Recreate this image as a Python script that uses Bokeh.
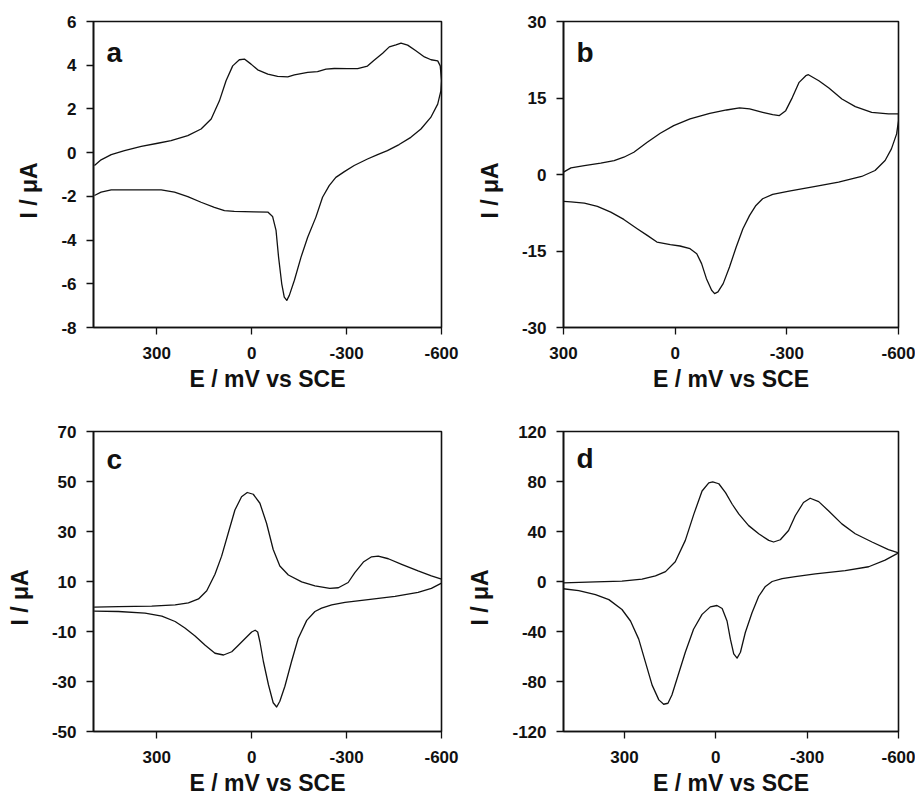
from bokeh.plotting import figure
from bokeh.layouts import gridplot
from bokeh.models import Range1d, FixedTicker, Label
from bokeh.embed import file_html
from bokeh.resources import INLINE

# ---------------- data (E / mV vs SCE, I / uA) ----------------
# panel a
a_E_fwd = [497, 476, 444, 402, 349, 297, 255, 202, 160, 128, 102, 81, 60, 39, 23, 2, -19, -51, -82,
           -114, -135, -177, -208, -235, -261, -303, -335, -366, -387, -414, -435, -456, -472, -493,
           -519, -546, -567, -588, -596, -600]
a_I_fwd = [-0.59, -0.33, -0.09, 0.09, 0.29, 0.43, 0.55, 0.78, 1.08, 1.54, 2.37, 3.29, 3.97, 4.25, 4.28,
           4.05, 3.79, 3.59, 3.49, 3.47, 3.56, 3.67, 3.71, 3.82, 3.85, 3.84, 3.84, 3.96, 4.23, 4.55,
           4.84, 4.93, 5.01, 4.92, 4.66, 4.38, 4.25, 4.20, 3.97, 3.29]
a_E_rev = [-598, -588, -566, -535, -503, -466, -429, -398, -366, -324, -293, -266, -245, -224, -203,
           -177, -156, -135, -119, -111, -103, -95, -85, -77, -66, -51, -8, 55, 86, 118, 160, 202,
           244, 286, 339, 444, 476, 497]
a_I_rev = [2.83, 2.22, 1.61, 1.08, 0.70, 0.37, 0.09, -0.09, -0.29, -0.59, -0.87, -1.13, -1.51, -2.04,
           -2.95, -3.87, -4.78, -5.84, -6.53, -6.76, -6.61, -6.00, -4.78, -3.56, -2.92, -2.72, -2.71,
           -2.69, -2.65, -2.50, -2.27, -2.01, -1.81, -1.70, -1.70, -1.70, -1.81, -1.96]

# panel b
b_E_fwd = [300, 280, 244, 200, 164, 138, 111, 75, 40, 4, -40, -93, -138, -173, -200, -235, -262, -280,
           -297, -315, -333, -351, -358, -386, -413, -448, -484, -528, -573, -600]
b_I_fwd = [0.46, 1.30, 1.76, 2.22, 2.74, 3.39, 4.37, 6.33, 8.09, 9.59, 10.89, 12.00, 12.65, 13.05,
           12.85, 12.20, 11.74, 11.55, 12.52, 15.13, 18.07, 19.37, 19.57, 18.39, 16.96, 14.81, 13.31,
           12.20, 11.87, 11.87]
b_E_rev = [-600, -595, -581, -564, -537, -501, -439, -377, -306, -262, -235, -217, -200, -182, -164,
           -146, -129, -115, -106, -98, -84, -71, -58, -40, -13, 13, 49, 75, 102, 138, 173, 209, 244,
           280, 300]
b_I_rev = [10.57, 7.96, 5.02, 2.74, 0.78, -0.39, -1.50, -2.35, -3.26, -3.91, -4.76, -6.07, -8.02,
           -10.63, -14.22, -18.13, -21.40, -23.03, -23.35, -22.70, -20.42, -17.48, -15.53, -14.55,
           -14.02, -13.76, -13.24, -11.94, -10.63, -8.81, -7.37, -6.26, -5.61, -5.35, -5.28]

# panel c
c_E_fwd = [498, 421, 316, 242, 200, 168, 142, 116, 95, 74, 53, 32, 14, -5, -26, -47, -68, -89, -116,
           -158, -200, -247, -274, -305, -326, -353, -379, -400, -432, -474, -526, -568, -600]
c_I_fwd = [-0.29, -0.02, 0.11, 0.64, 1.43, 3.01, 6.31, 12.9, 20.15, 29.39, 38.6, 43.9, 45.6, 44.9,
           41.3, 33.3, 22.8, 16.2, 12.6, 9.87, 8.29, 7.23, 7.5, 9.6, 13.56, 17.78, 19.89, 20.15, 19.1,
           16.86, 14.22, 12.24, 10.92]
c_E_rev = [-600, -568, -526, -453, -368, -295, -253, -221, -200, -174, -147, -126, -105, -89, -79,
           -68, -53, -37, -26, -19, -11, 0, 16, 42, 63, 89, 116, 147, 179, 211, 242, 284, 337, 421,
           498]
c_I_rev = [9.34, 7.23, 5.65, 4.07, 2.75, 1.69, 0.64, -0.68, -2.0, -5.56, -12.8, -22.0, -31.9, -37.9,
           -40.2, -38.5, -31.3, -22.0, -14.1, -10.2, -9.5, -10.2, -12.2, -15.5, -18.1, -19.4, -18.7,
           -15.5, -11.8, -8.6, -6.0, -3.85, -2.66, -2.0, -1.87]

# panel d
d_E_fwd = [501, 395, 308, 242, 198, 165, 133, 100, 72, 45, 23, 10, -10, -32, -54, -76, -108, -141,
           -174, -190, -212, -239, -261, -288, -310, -338, -370, -414, -458, -513, -567, -600]
d_I_fwd = [-1.05, -0.26, 0.26, 1.84, 4.47, 7.89, 15.8, 32.9, 53.9, 72.4, 78.9, 79.7, 78.2, 71.1, 61.8,
           53.9, 44.7, 38.2, 32.9, 31.6, 33.4, 40.8, 52.6, 63.2, 66.6, 63.9, 56.6, 46.1, 38.2, 31.6,
           25.5, 22.9]
d_E_rev = [-556, -502, -425, -327, -261, -218, -185, -163, -141, -119, -97, -81, -70, -59, -48, -37,
           -21, -4, 18, 45, 73, 100, 127, 144, 157, 171, 187, 209, 231, 253, 280, 308, 351, 395, 450,
           501]
d_I_rev = [17.1, 11.8, 8.7, 6.05, 3.95, 2.37, 0.0, -3.95, -11.8, -25.0, -40.8, -56.6, -61.3, -57.9,
           -46.1, -31.6, -21.6, -19.2, -20.3, -26.3, -38.2, -56.6, -77.6, -90.8, -97.4, -98.2, -94.7,
           -82.9, -64.5, -46.1, -31.6, -22.4, -14.5, -10.5, -7.37, -5.79]

x_ticks = [300, 0, -300, -600]
a_yticks = [6, 4, 2, 0, -2, -4, -6, -8]
b_yticks = [30, 15, 0, -15, -30]
c_yticks = [70, 50, 30, 10, -10, -30, -50]
d_yticks = [120, 80, 40, 0, -40, -80, -120]
panel_letters = ["a", "b", "c", "d"]
x_label = "E / mV vs SCE"
y_label = "I / \u03bcA"

FONT = "Liberation Sans"
INK = "#111111"


def make_panel(E_fwd, I_fwd, E_rev, I_rev, xr, yr, yticks, letter,
               width, height, mbl, mbr, mbt, mbb):
    p = figure(width=width, height=height, output_backend="svg", toolbar_location=None,
               x_range=Range1d(*xr), y_range=Range1d(*yr),
               min_border_left=mbl, min_border_right=mbr, min_border_top=mbt, min_border_bottom=mbb)
    p.grid.visible = False
    p.background_fill_color = "white"
    p.border_fill_color = "white"
    p.outline_line_color = INK
    p.outline_line_width = 1.6
    for ax in (p.xaxis[0], p.yaxis[0]):
        ax.axis_line_color = INK
        ax.axis_line_width = 1.6
        ax.major_tick_line_color = INK
        ax.major_tick_line_width = 1.3
        ax.major_tick_in = 0
        ax.major_tick_out = 7
        ax.minor_tick_line_color = None
        ax.major_label_text_font = FONT
        ax.major_label_text_font_style = "bold"
        ax.major_label_text_font_size = "17px"
        ax.major_label_text_color = INK
        ax.axis_label_text_font = FONT
        ax.axis_label_text_font_style = "bold"
        ax.axis_label_text_font_size = "23px"
        ax.axis_label_text_color = INK
    p.xaxis.ticker = FixedTicker(ticks=x_ticks)
    p.yaxis.ticker = FixedTicker(ticks=yticks)
    p.xaxis.major_label_overrides = {t: str(t) for t in x_ticks}
    p.yaxis.major_label_overrides = {t: str(t) for t in yticks}
    p.xaxis.major_label_standoff = 12
    p.yaxis.major_label_standoff = 10
    p.xaxis.axis_label = x_label
    p.xaxis.axis_label_standoff = 4
    p.yaxis.axis_label = y_label + "\u00a0" * 5
    p.yaxis.axis_label_standoff = 16

    E = list(E_fwd) + list(E_rev)
    I = list(I_fwd) + list(I_rev)
    p.line(E, I, line_color=INK, line_width=1.3, line_join="round")

    fh = height - mbt - mbb
    p.add_layout(Label(x=13, y=fh - 31, x_units="screen", y_units="screen", text=letter,
                       text_font=FONT, text_font_style="bold", text_font_size="28px",
                       text_color=INK, text_baseline="alphabetic", text_align="left"))
    return p


pa = make_panel(a_E_fwd, a_I_fwd, a_E_rev, a_I_rev, (500, -600), (-8, 6), a_yticks, panel_letters[0],
                460, 408, 93, 19, 21, 81)
pb = make_panel(b_E_fwd, b_I_fwd, b_E_rev, b_I_rev, (300, -600), (-30, 30), b_yticks, panel_letters[1],
                455, 408, 101, 16, 21, 81)
pc = make_panel(c_E_fwd, c_I_fwd, c_E_rev, c_I_rev, (500, -600), (-50, 70), c_yticks, panel_letters[2],
                460, 390, 93, 19, 23, 64)
pd = make_panel(d_E_fwd, d_I_fwd, d_E_rev, d_I_rev, (500, -600), (-120, 120), d_yticks, panel_letters[3],
                455, 390, 103, 17, 21, 65)

layout = gridplot([[pa, pb], [pc, pd]], toolbar_location=None)

with open("out.html", "w") as f:
    f.write(file_html(layout, INLINE))
